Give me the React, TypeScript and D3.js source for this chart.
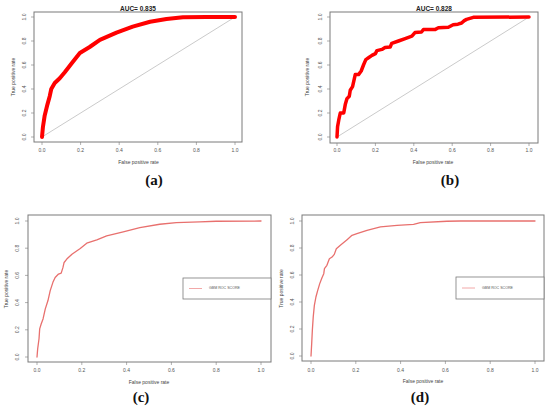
import React from "react";
import * as d3 from "d3";

// ROC curves
const fprA = [0, 0.005, 0.014, 0.028, 0.04, 0.048, 0.066, 0.092, 0.118, 0.152, 0.196, 0.247, 0.3, 0.386, 0.47, 0.56, 0.645, 0.73, 0.85, 1];
const tprA = [0, 0.086, 0.18, 0.27, 0.34, 0.4, 0.45, 0.49, 0.54, 0.61, 0.7, 0.75, 0.81, 0.87, 0.92, 0.96, 0.983, 0.997, 1, 1];

const fprB = [0, 0.003, 0.009, 0.017, 0.035, 0.043, 0.052, 0.064, 0.069, 0.081, 0.095, 0.112, 0.126, 0.138, 0.15, 0.164, 0.182, 0.2, 0.208, 0.234, 0.25, 0.277, 0.285, 0.32, 0.355, 0.39, 0.406, 0.44, 0.45, 0.51, 0.528, 0.58, 0.605, 0.63, 0.649, 0.663, 0.675, 0.71, 1];
const tprB = [0, 0.086, 0.14, 0.2, 0.2, 0.27, 0.32, 0.34, 0.39, 0.42, 0.52, 0.52, 0.55, 0.6, 0.645, 0.66, 0.68, 0.695, 0.72, 0.73, 0.745, 0.75, 0.78, 0.8, 0.82, 0.84, 0.87, 0.875, 0.895, 0.895, 0.91, 0.915, 0.935, 0.94, 0.95, 0.97, 0.98, 0.997, 1];

const fprC = [0, 0.003, 0.009, 0.012, 0.019, 0.027, 0.037, 0.049, 0.059, 0.071, 0.081, 0.096, 0.108, 0.116, 0.121, 0.133, 0.156, 0.193, 0.222, 0.267, 0.311, 0.385, 0.459, 0.548, 0.622, 0.726, 0.8, 1];
const tprC = [0, 0.06, 0.134, 0.207, 0.244, 0.28, 0.354, 0.415, 0.488, 0.549, 0.585, 0.61, 0.617, 0.659, 0.695, 0.72, 0.756, 0.798, 0.837, 0.861, 0.89, 0.92, 0.951, 0.976, 0.988, 0.993, 0.998, 1];

const fprD = [0, 0.003, 0.006, 0.01, 0.015, 0.022, 0.03, 0.039, 0.049, 0.057, 0.06, 0.071, 0.082, 0.094, 0.104, 0.113, 0.131, 0.161, 0.183, 0.205, 0.25, 0.31, 0.384, 0.458, 0.488, 0.607, 0.667, 1];
const tprD = [0, 0.09, 0.19, 0.29, 0.375, 0.437, 0.486, 0.536, 0.58, 0.61, 0.647, 0.672, 0.72, 0.733, 0.753, 0.795, 0.82, 0.862, 0.894, 0.906, 0.931, 0.956, 0.968, 0.975, 0.988, 0.998, 1, 1];

const ticks = [0, 0.2, 0.4, 0.6, 0.8, 1];
const titles = ["AUC= 0.835", "AUC= 0.828", "", ""];
const captions = ["(a)", "(b)", "(c)", "(d)"];
const legendLabel = "GBM ROC SCORE";

type Layout = {
  box: [number, number, number, number]; // left, top, right, bottom
  xr: [number, number];
  yr: [number, number];
  yTickX: number;
  xTickY: number;
  xTitleY: number;
  yTitleX: number;
  titleY: number;
  caption: [number, number];
  legend?: [number, number, number, number];
};

const layouts: Layout[] = [
  { box: [34, 12, 242, 142], xr: [42, 235], yr: [137, 17], yTickX: 25, xTickY: 151, xTitleY: 163, yTitleX: 14, titleY: 9, caption: [154, 182] },
  { box: [330, 12, 538, 143], xr: [337, 529], yr: [137, 17], yTickX: 321, xTickY: 151, xTitleY: 163, yTitleX: 308, titleY: 9, caption: [450, 182] },
  { box: [28, 215, 271, 362], xr: [37, 261], yr: [357, 221], yTickX: 18, xTickY: 371, xTitleY: 383, yTitleX: 7, titleY: 0, caption: [141, 399], legend: [183, 278, 271, 299] },
  { box: [302, 215, 544, 361], xr: [311, 535], yr: [356, 221], yTickX: 293, xTickY: 371, xTitleY: 382, yTitleX: 282, titleY: 0, caption: [420, 399], legend: [456, 277, 544, 299] },
];

const series = [
  { fpr: fprA, tpr: tprA, color: "#ff0000", width: 4 },
  { fpr: fprB, tpr: tprB, color: "#ff0000", width: 3.5 },
  { fpr: fprC, tpr: tprC, color: "#e8706e", width: 1.3 },
  { fpr: fprD, tpr: tprD, color: "#e8706e", width: 1.3 },
];

const sans = "Liberation Sans, Arial, sans-serif";

function Panel({ i }: { i: number }) {
  const L = layouts[i];
  const s = series[i];
  const x = d3.scaleLinear().domain([0, 1]).range(L.xr);
  const y = d3.scaleLinear().domain([0, 1]).range(L.yr);
  const pts = s.fpr.map((f, k) => [f, s.tpr[k]] as [number, number]);
  const line = d3.line<[number, number]>().x(d => x(d[0])).y(d => y(d[1]));
  const [bl, bt, br, bb] = L.box;
  const axisCol = "#7a7a7a";
  const textCol = "#555";
  return (
    <g>
      <rect x={bl} y={bt} width={br - bl} height={bb - bt} fill="none" stroke={axisCol} strokeWidth={1} />
      {/* x axis ticks */}
      {ticks.map(t => (
        <g key={"x" + t}>
          <line x1={x(t)} x2={x(t)} y1={bb} y2={bb + 3} stroke={axisCol} strokeWidth={0.6} />
          <text x={x(t)} y={L.xTickY} fontSize={5} fill={textCol} textAnchor="middle" dominantBaseline="middle" fontFamily={sans}>
            {t.toFixed(1)}
          </text>
        </g>
      ))}
      {ticks.map(t => (
        <g key={"y" + t}>
          <line x1={bl} x2={bl - 3} y1={y(t)} y2={y(t)} stroke={axisCol} strokeWidth={0.6} />
          <text transform={`translate(${L.yTickX},${y(t)}) rotate(-90)`} fontSize={5} fill={textCol} textAnchor="middle" dominantBaseline="middle" fontFamily={sans}>
            {t.toFixed(1)}
          </text>
        </g>
      ))}
      <text x={(L.xr[0] + L.xr[1]) / 2} y={L.xTitleY} fontSize={5} fill="#444" textAnchor="middle" dominantBaseline="middle" fontFamily={sans}>
        False positive rate
      </text>
      <text transform={`translate(${L.yTitleX},${(L.yr[0] + L.yr[1]) / 2}) rotate(-90)`} fontSize={5} fill="#444" textAnchor="middle" dominantBaseline="middle" fontFamily={sans}>
        True positive rate
      </text>
      {titles[i] && (
        <text x={(bl + br) / 2} y={L.titleY} fontSize={6.5} fontWeight="bold" fill="#222" textAnchor="middle" dominantBaseline="middle" fontFamily={sans}>
          {titles[i]}
        </text>
      )}
      {i < 2 && <line x1={x(0)} y1={y(0)} x2={x(1)} y2={y(1)} stroke="#c4c4c4" strokeWidth={0.9} />}
      <path d={line(pts) ?? ""} fill="none" stroke={s.color} strokeWidth={s.width} strokeLinejoin="round" strokeLinecap="round" />
      {L.legend && (
        <g>
          <rect x={L.legend[0]} y={L.legend[1]} width={L.legend[2] - L.legend[0]} height={L.legend[3] - L.legend[1]} fill="#fff" stroke={axisCol} strokeWidth={0.8} />
          <line x1={L.legend[0] + 6} x2={L.legend[0] + 19} y1={(L.legend[1] + L.legend[3]) / 2} y2={(L.legend[1] + L.legend[3]) / 2} stroke="#f2a8a8" strokeWidth={1} />
          <text x={L.legend[0] + 26} y={(L.legend[1] + L.legend[3]) / 2} fontSize={3.6} fill="#555" dominantBaseline="middle" fontFamily={sans}>
            {legendLabel}
          </text>
        </g>
      )}
      <text x={L.caption[0]} y={L.caption[1]} fontSize={15} fontWeight="bold" fill="#111" textAnchor="middle" dominantBaseline="middle" fontFamily="Liberation Serif, DejaVu Serif, serif">
        {captions[i]}
      </text>
    </g>
  );
}

export default function App() {
  return (
    <svg width={550} height={416} viewBox="0 0 550 416" style={{ position: "absolute", left: 0, top: 0, background: "#fff" }}>
      {layouts.map((_, i) => (
        <Panel key={i} i={i} />
      ))}
    </svg>
  );
}
